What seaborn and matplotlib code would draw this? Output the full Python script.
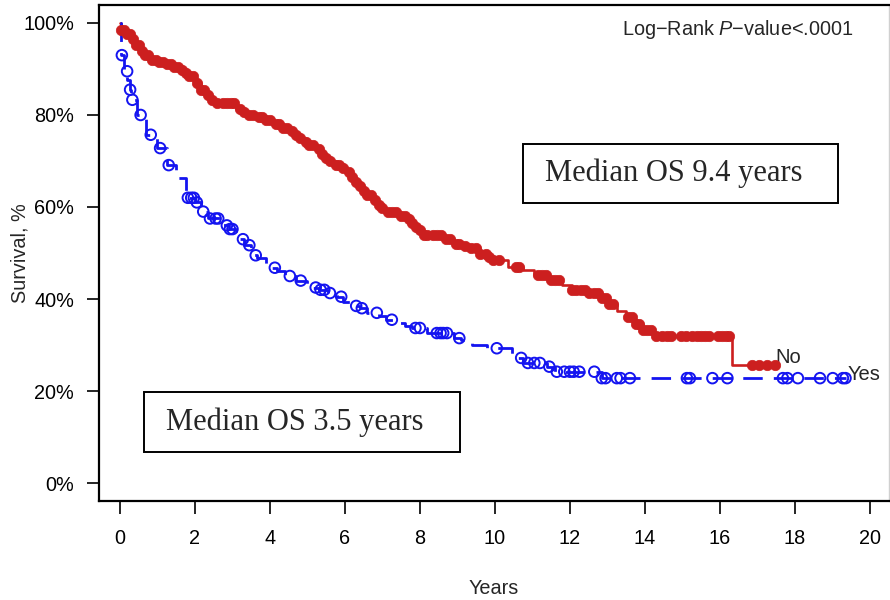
import numpy as np
import pandas as pd
import matplotlib
matplotlib.use("Agg")
import matplotlib.pyplot as plt
import seaborn as sns
from matplotlib.patches import Rectangle

# ---- data ----
no_times = [0.0, 0.03, 0.12, 0.27, 0.4, 0.53, 0.65, 0.8, 1.0, 1.2, 1.4, 1.6, 1.75, 1.85,
            2.0, 2.15, 2.3, 2.45, 2.55, 3.1, 3.3, 3.45, 3.7, 3.9, 4.05, 4.15, 4.35, 4.5,
            4.65, 4.8, 4.95, 5.05, 5.2, 5.35, 5.5, 5.6, 5.75, 5.9, 6.05, 6.15, 6.3, 6.4,
            6.5, 6.6, 6.75, 6.85, 6.95, 7.05, 7.5, 7.65, 7.75, 7.85, 7.95, 8.05, 8.6,
            8.9, 9.1, 9.3, 9.6, 9.8, 9.95, 10.35, 10.75, 11.05, 11.45, 11.8, 12.05,
            12.45, 12.85, 13.05, 13.25, 13.5, 13.7, 13.95, 14.25, 16.33, 17.47]
no_surv = [100, 98.5, 97.5, 96.5, 95.3, 94, 93, 92, 91.5, 91, 90.5, 89.8, 89.2, 88.5,
           87, 85.5, 84.3, 83.2, 82.5, 81.3, 80.6, 80, 79.5, 79, 78.5, 78, 77.2, 76.5,
           75.7, 75, 74.2, 73.5, 72.5, 71.5, 70.7, 70, 69.2, 68.5, 67.5, 66.5, 65.5, 64.5,
           63.5, 62.5, 61.5, 60.5, 59.7, 59, 58, 57.3, 56.5, 55.7, 55, 54, 53,
           52, 51.5, 51, 49.8, 49.2, 48.5, 47, 46.3, 45.3, 44.2, 43, 42,
           41.3, 40.3, 39, 37.5, 36, 34.5, 33.3, 32, 25.7, 25.7]
no_censor = [0.04, 0.1, 0.18, 0.26, 0.34, 0.42, 0.5, 0.58, 0.66, 0.75, 0.85, 0.95, 1.05,
             1.15, 1.25, 1.35, 1.45, 1.55, 1.65, 1.75, 1.85, 1.95, 2.05, 2.15, 2.25, 2.35,
             2.45, 2.6, 2.75, 2.85, 2.95, 3.05, 3.2, 3.3, 3.45, 3.55, 3.7, 3.8, 3.9, 4.0,
             4.15, 4.25, 4.35, 4.45, 4.6, 4.7, 4.8, 4.95, 5.05, 5.15, 5.3, 5.4, 5.5, 5.6,
             5.75, 5.85, 5.95, 6.1, 6.2, 6.3, 6.4, 6.5, 6.6, 6.7, 6.8, 6.9, 7.0, 7.15,
             7.25, 7.35, 7.5, 7.6, 7.7, 7.8, 7.9, 8.0, 8.1, 8.2, 8.35, 8.45, 8.55, 8.7,
             8.8, 8.95, 9.05, 9.2, 9.35, 9.5, 9.6, 9.75, 9.85, 9.95, 10.1, 10.55, 10.65,
             11.15, 11.25, 11.35, 11.5, 11.6, 11.7, 12.05, 12.15, 12.3, 12.4, 12.5, 12.65,
             12.75, 12.85, 12.95, 13.05, 13.15, 13.55, 13.65, 13.75, 13.85, 13.95, 14.05,
             14.15, 14.3, 14.45, 14.6, 14.7, 14.95, 15.1, 15.25, 15.4, 15.5, 15.6, 15.7,
             15.95, 16.05, 16.15, 16.25, 16.85, 17.05, 17.25, 17.47]

yes_times = [0.0, 0.02, 0.04, 0.1, 0.2, 0.26, 0.3, 0.45, 0.7, 1.0, 1.25, 1.5, 1.75, 2.0,
             2.15, 2.35, 2.7, 2.9, 3.1, 3.3, 3.5, 3.65, 3.9, 4.2, 4.4, 4.7, 5.0, 5.3,
             5.55, 5.8, 5.95, 6.2, 6.4, 6.6, 6.9, 7.1, 7.3, 7.6, 7.8, 8.2, 8.9, 9.1,
             9.4, 9.8, 10.45, 10.6, 10.75, 11.4, 11.6, 12.85, 19.35]
yes_surv = [100, 96.7, 93, 89.5, 87.5, 85.5, 83.3, 80, 75.7, 72.8, 69.1, 66.3, 62, 61,
            59, 57.5, 56, 55.2, 53, 51.7, 49.5, 48.9, 46.8, 46, 45, 44, 42.5, 42,
            41.3, 40.5, 39.3, 38.5, 38, 37, 36.3, 35.5, 34.8, 34.2, 33.7, 32.6, 31.5, 31,
            30, 29.3, 28, 27.2, 26.1, 25.3, 24.2, 22.8, 22.8]
yes_censor = [0.05, 0.19, 0.27, 0.33, 0.55, 0.82, 1.07, 1.3, 1.81, 1.9, 1.97, 2.05, 2.22,
              2.4, 2.55, 2.62, 2.85, 2.93, 3.0, 3.28, 3.45, 3.62, 4.13, 4.53, 4.82, 5.22,
              5.35, 5.45, 5.6, 5.9, 6.3, 6.45, 6.85, 7.25, 7.88, 8.0, 8.45, 8.55, 8.62,
              8.72, 9.05, 10.05, 10.7, 10.88, 11.05, 11.2, 11.45, 11.65, 11.85, 12.0,
              12.1, 12.25, 12.65, 12.85, 12.95, 13.25, 13.35, 13.6, 15.12, 15.2, 15.8,
              16.2, 17.68, 17.8, 18.08, 18.67, 19.01, 19.28, 19.35]

x_ticks = [0, 2, 4, 6, 8, 10, 12, 14, 16, 18, 20]
y_ticks = [0, 20, 40, 60, 80, 100]
y_ticklabels = ["0%", "20%", "40%", "60%", "80%", "100%"]

RED = "#CC1F1F"
BLUE = "#1414F0"


def step_value(times, surv, t):
    idx = np.searchsorted(np.asarray(times), np.asarray(t), side="right") - 1
    return np.asarray(surv)[idx]


sns.set_theme(style="white")
plt.rcParams["font.family"] = ["Liberation Sans", "DejaVu Sans"]
plt.rcParams["mathtext.fontset"] = "custom"
plt.rcParams["mathtext.it"] = "Liberation Sans:italic"
plt.rcParams["mathtext.rm"] = "Liberation Sans"

fig = plt.figure(figsize=(8.9, 6.0), dpi=100)
ax = fig.add_axes([99 / 890, 99 / 600, 790 / 890, 496 / 600])

df_no = pd.DataFrame({"t": no_times, "s": no_surv})
df_yes = pd.DataFrame({"t": yes_times, "s": yes_surv})

sns.lineplot(data=df_no, x="t", y="s", ax=ax, estimator=None, sort=False,
             drawstyle="steps-post", color=RED, linewidth=1.9, zorder=3)
sns.lineplot(data=df_yes, x="t", y="s", ax=ax, estimator=None, sort=False,
             drawstyle="steps-post", color=BLUE, linewidth=2.0,
             linestyle=(0, (7, 4)), zorder=3)

cn = pd.DataFrame({"t": no_censor, "s": step_value(no_times, no_surv, no_censor)})
cy = pd.DataFrame({"t": yes_censor, "s": step_value(yes_times, yes_surv, yes_censor)})
sns.scatterplot(data=cn, x="t", y="s", ax=ax, marker="o", s=56, color=RED,
                edgecolor=RED, linewidth=0.5, zorder=4)
ax.scatter(cy["t"], cy["s"], marker="o", s=58, facecolors="none",
           edgecolors=BLUE, linewidths=1.4, zorder=5)

ax.set_xlim(-0.56, 20.51)
ax.set_ylim(-3.9, 103.9)
ax.set_xticks(x_ticks)
ax.set_xticklabels([str(v) for v in x_ticks])
ax.set_yticks(y_ticks)
ax.set_yticklabels(y_ticklabels)
ax.tick_params(axis="both", direction="out", length=9, width=1.2, colors="black",
               labelsize=14.3, left=True, bottom=True)
ax.tick_params(axis="x", pad=11)
ax.tick_params(axis="y", pad=9)
ax.set_xlabel("Years", fontsize=14.3)
ax.set_ylabel("Survival, %", fontsize=14.3)
ax.xaxis.set_label_coords(0.5, -0.158)
ax.yaxis.set_label_coords(-0.088, 0.5)

for side in ["left", "top", "bottom"]:
    ax.spines[side].set_color("black")
    ax.spines[side].set_linewidth(1.6)
ax.spines["right"].set_color("#d0d0d0")
ax.spines["right"].set_linewidth(1.0)

# median boxes
ax.add_patch(Rectangle((0.64, 6.74), 9.07 - 0.64, 19.8 - 6.74, fill=False,
                       edgecolor="black", linewidth=1.4, zorder=6))
ax.text(1.23, 13.3, "Median OS 3.5 years", fontsize=22, va="center", ha="left",
        family=["Liberation Serif"], zorder=7)
ax.add_patch(Rectangle((10.75, 60.9), 19.15 - 10.75, 73.7 - 60.9, fill=False,
                       edgecolor="black", linewidth=1.4, zorder=6))
ax.text(11.33, 67.3, "Median OS 9.4 years", fontsize=22, va="center", ha="left",
        family=["Liberation Serif"], zorder=7)

ax.text(19.55, 98.5, "Log\u2212Rank $\\mathit{P}$\u2212value<.0001", fontsize=14.3,
        ha="right", va="center")
ax.text(17.49, 27.2, "No", fontsize=14.5, ha="left", va="center")
ax.text(19.41, 23.7, "Yes", fontsize=14.5, ha="left", va="center")

fig.savefig("out.png", dpi=100, facecolor="white")
